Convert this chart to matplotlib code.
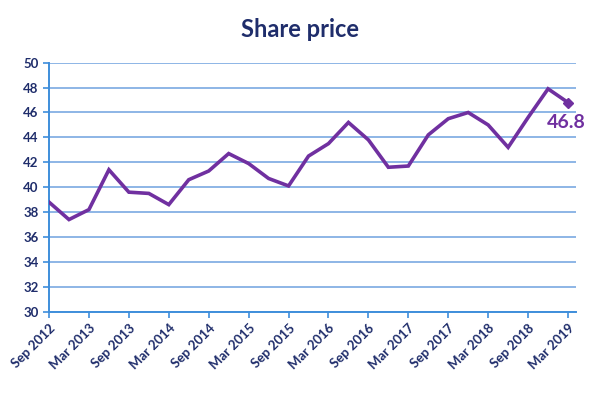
import matplotlib
matplotlib.use("Agg")
import matplotlib.pyplot as plt

# quarterly share price, Sep 2012 .. Mar 2019
quarters = [
    "Sep 2012", "Dec 2012", "Mar 2013", "Jun 2013", "Sep 2013", "Dec 2013",
    "Mar 2014", "Jun 2014", "Sep 2014", "Dec 2014", "Mar 2015", "Jun 2015",
    "Sep 2015", "Dec 2015", "Mar 2016", "Jun 2016", "Sep 2016", "Dec 2016",
    "Mar 2017", "Jun 2017", "Sep 2017", "Dec 2017", "Mar 2018", "Jun 2018",
    "Sep 2018", "Dec 2018", "Mar 2019",
]
prices = [
    38.8, 37.4, 38.2, 41.4, 39.6, 39.5,
    38.6, 40.6, 41.3, 42.7, 41.9, 40.7,
    40.1, 42.5, 43.5, 45.2, 43.8, 41.6,
    41.7, 44.2, 45.5, 46.0, 45.0, 43.2,
    45.6, 47.9, 46.8,
]
tick_labels = quarters[::2]

NAVY = "#1F2D6B"
PURPLE = "#7030A0"
AXIS_BLUE = "#3E8EDB"
GRID_BLUE = "#8DB6E6"

plt.rcParams["font.family"] = ["Lato", "DejaVu Sans"]

fig = plt.figure(figsize=(6.0, 3.96), dpi=100)
ax = fig.add_axes([0.0817, 0.2129, 0.8783, 0.6288])

x = list(range(len(prices)))
ax.plot(x, prices, color=PURPLE, linewidth=2.6, solid_joinstyle="miter", zorder=3)
ax.plot(x[-1], prices[-1], marker="D", markersize=5.5, color=PURPLE, zorder=4)
ax.annotate(f"{prices[-1]}", (x[-1], prices[-1]), textcoords="offset points",
            xytext=(-1, -8), ha="center", va="top", fontsize=14,
            fontweight="bold", color=PURPLE)

ax.set_xlim(0, len(prices) - 1 + 0.4)
ax.set_ylim(30, 50)
ax.set_yticks(range(30, 51, 2))
ax.set_xticks(x[::2])
ax.set_xticklabels(tick_labels, rotation=45, ha="right", rotation_mode="anchor")

ax.grid(axis="y", color=GRID_BLUE, linewidth=1.4)
ax.set_axisbelow(True)
for side in ("top", "right"):
    ax.spines[side].set_visible(False)
for side in ("left", "bottom"):
    ax.spines[side].set_color(AXIS_BLUE)
    ax.spines[side].set_linewidth(1.4)

ax.tick_params(axis="both", colors=AXIS_BLUE, width=1.2, length=4,
               labelcolor=NAVY, labelsize=9.5)
for lbl in ax.get_xticklabels() + ax.get_yticklabels():
    lbl.set_fontweight("bold")

fig.text(0.5, 0.925, "Share price", ha="center", va="center",
         fontsize=17, fontweight="bold", color=NAVY)

fig.savefig("out.png", dpi=100)
